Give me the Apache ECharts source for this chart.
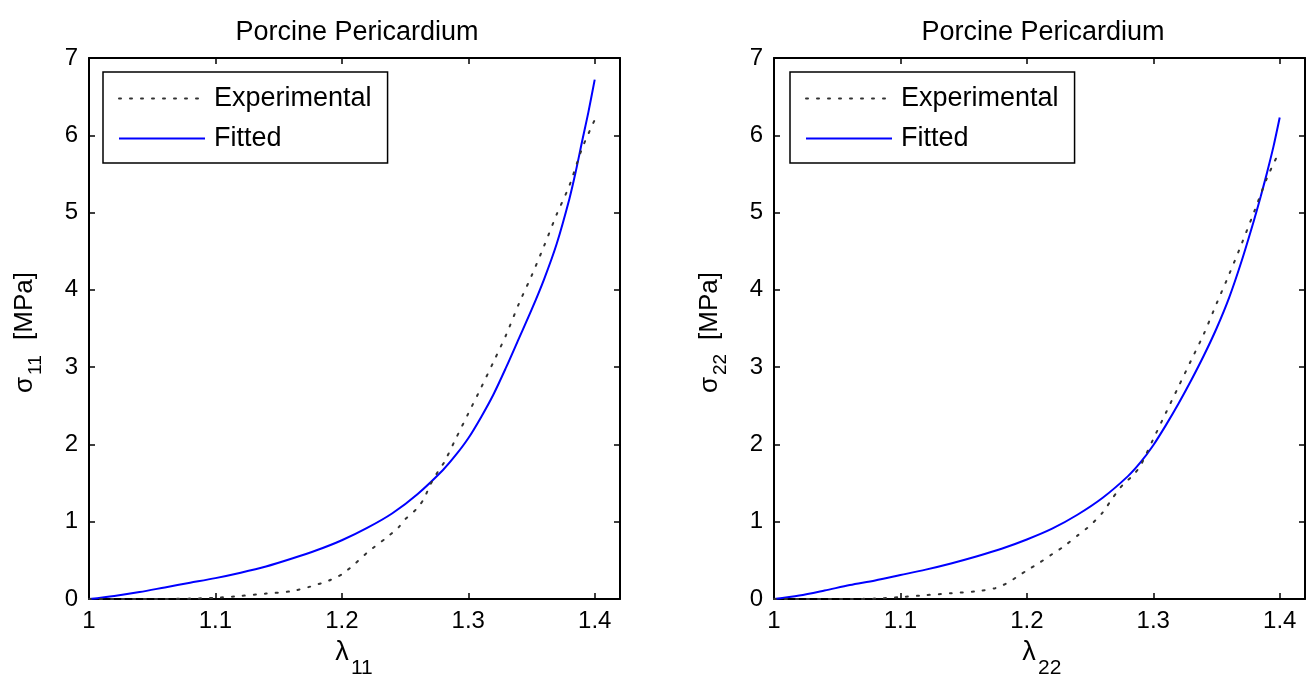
<!DOCTYPE html>
<html><head><meta charset="utf-8">
<script src="https://cdn.jsdelivr.net/npm/echarts@6/dist/echarts.min.js"></script>
<style>html,body{margin:0;padding:0;background:#fff}#c{width:1311px;height:683px}</style>
</head><body><div id="c"></div>
<script>
const titleText = 'Porcine Pericardium';
const legendNames = ['Experimental', 'Fitted'];
const xTickLabels = ['1', '1.1', '1.2', '1.3', '1.4'];

const lam11Exp = [1.00,1.02,1.04,1.06,1.08,1.10,1.12,1.14,1.16,1.175,1.19,1.20,1.21,1.22,1.235,1.245,1.25,1.26,1.265,1.27,1.276,1.281,1.29,1.30,1.31,1.32,1.33,1.34,1.35,1.36,1.37,1.38,1.39,1.40];
const sig11Exp = [0,0,0,0,0.005,0.015,0.04,0.07,0.10,0.16,0.24,0.32,0.45,0.60,0.79,0.93,1.03,1.18,1.30,1.48,1.65,1.77,2.07,2.40,2.73,3.07,3.42,3.82,4.18,4.57,4.98,5.35,5.83,6.20];

const lamFit = [1.00,1.02,1.04,1.06,1.08,1.10,1.12,1.14,1.16,1.18,1.20,1.22,1.24,1.26,1.28,1.29,1.30,1.31,1.32,1.33,1.34,1.35,1.36,1.37,1.38,1.385,1.39,1.395,1.40];
const sig11Fit = [0,0.04,0.09,0.15,0.21,0.27,0.34,0.42,0.52,0.63,0.76,0.92,1.11,1.36,1.67,1.86,2.08,2.35,2.65,3.00,3.37,3.74,4.14,4.60,5.18,5.53,5.92,6.30,6.72];
const sig22Fit = [0,0.045,0.11,0.18,0.24,0.31,0.38,0.46,0.55,0.65,0.77,0.91,1.09,1.31,1.59,1.77,1.99,2.25,2.53,2.83,3.15,3.50,3.90,4.38,4.92,5.21,5.52,5.85,6.23];

const lam22Exp = [1.00,1.02,1.04,1.06,1.08,1.10,1.12,1.14,1.16,1.175,1.185,1.192,1.20,1.21,1.22,1.23,1.24,1.25,1.26,1.268,1.276,1.284,1.29,1.30,1.31,1.32,1.33,1.34,1.35,1.36,1.37,1.38,1.39,1.40];
const sig22Exp = [0,0,0,0,0.005,0.025,0.05,0.075,0.10,0.14,0.21,0.285,0.37,0.47,0.58,0.69,0.82,0.95,1.12,1.31,1.48,1.60,1.73,2.07,2.41,2.75,3.09,3.43,3.82,4.20,4.60,5.02,5.45,5.80];

const FF = '"Liberation Sans", Arial, Helvetica, sans-serif';
const zip = (a, b) => a.map((v, i) => [v, b[i]]);

const grids = [
  {left: 89, top: 58, width: 531, height: 541},
  {left: 774, top: 58, width: 531, height: 541}
];
const axisLineStyle = {color: '#000', width: 2};
const tickStyle = {inside: true, length: 6, lineStyle: {color: '#000', width: 1.5}};

const xAxes = [], yAxes = [];
grids.forEach((g, gi) => {
  xAxes.push({gridIndex: gi, type: 'value', min: 1, max: 1.42, interval: 0.1, position: 'bottom',
    axisLine: {onZero: false, lineStyle: axisLineStyle}, axisTick: tickStyle, splitLine: {show: false},
    axisLabel: {fontSize: 24, color: '#000', fontFamily: FF, margin: 10,
      formatter: v => { const i = Math.round((v - 1) * 10); return (Math.abs(v - (1 + i / 10)) < 1e-6 && i < xTickLabels.length) ? xTickLabels[i] : ''; }}});
  xAxes.push({gridIndex: gi, type: 'value', min: 1, max: 1.42, interval: 0.1, position: 'top',
    axisLine: {onZero: false, lineStyle: axisLineStyle}, axisTick: tickStyle, splitLine: {show: false}, axisLabel: {show: false}});
  yAxes.push({gridIndex: gi, type: 'value', min: 0, max: 7, interval: 1, position: 'left',
    axisLine: {onZero: false, show: true, lineStyle: axisLineStyle}, axisTick: {show: true, ...tickStyle}, splitLine: {show: false},
    axisLabel: {fontSize: 24, color: '#000', fontFamily: FF, margin: 11}});
  yAxes.push({gridIndex: gi, type: 'value', min: 0, max: 7, interval: 1, position: 'right',
    axisLine: {onZero: false, show: true, lineStyle: axisLineStyle}, axisTick: {show: true, ...tickStyle}, splitLine: {show: false}, axisLabel: {show: false}});
});

const expStyle = {color: '#333', width: 2, type: [2, 9], cap: 'round'};
const fitStyle = {color: '#0000ff', width: 2};
const series = [
  {name: 'Experimental', type: 'line', xAxisIndex: 0, yAxisIndex: 0, data: zip(lam11Exp, sig11Exp), symbol: 'none', smooth: 0.25, lineStyle: expStyle, itemStyle: {color: '#333'}, z: 3},
  {name: 'Fitted', type: 'line', xAxisIndex: 0, yAxisIndex: 0, data: zip(lamFit, sig11Fit), symbol: 'none', smooth: 0.3, lineStyle: fitStyle, itemStyle: {color: '#0000ff'}, z: 2},
  {name: 'Experimental', type: 'line', xAxisIndex: 2, yAxisIndex: 2, data: zip(lam22Exp, sig22Exp), symbol: 'none', smooth: 0.25, lineStyle: expStyle, itemStyle: {color: '#333'}, z: 3},
  {name: 'Fitted', type: 'line', xAxisIndex: 2, yAxisIndex: 2, data: zip(lamFit, sig22Fit), symbol: 'none', smooth: 0.3, lineStyle: fitStyle, itemStyle: {color: '#0000ff'}, z: 2}
];

const legendBase = {orient: 'vertical', top: 72, data: legendNames, itemWidth: 86, itemHeight: 14, itemGap: 13,
  padding: [13, 16, 11, 15], borderColor: '#000', borderWidth: 1.5, backgroundColor: '#fff', selectedMode: false,
  itemStyle: {opacity: 0},
  textStyle: {fontSize: 27, color: '#000', fontFamily: FF, lineHeight: 26, padding: [0, 0, 0, 4]}};

function yTitle(x, sub) {
  return {type: 'group', x: x, y: 330, rotation: Math.PI / 2, children: [
    {type: 'text', x: -63, y: 0, style: {text: 'σ', fontSize: 26, fontFamily: FF, fill: '#000', align: 'left', verticalAlign: 'middle'}},
    {type: 'text', x: -45, y: 11, style: {text: sub, fontSize: 19, fontFamily: FF, fill: '#000', align: 'left', verticalAlign: 'middle'}},
    {type: 'text', x: -10, y: 0, style: {text: '[MPa]', fontSize: 26, fontFamily: FF, fill: '#000', align: 'left', verticalAlign: 'middle'}}
  ]};
}
function xTitle(x, sub) {
  return {type: 'group', x: x, y: 653, children: [
    {type: 'text', x: 0, y: 0, style: {text: 'λ', fontSize: 27, fontFamily: FF, fill: '#000', align: 'center', verticalAlign: 'middle'}},
    {type: 'text', x: 9, y: 15, style: {text: sub, fontSize: 21, fontFamily: FF, fill: '#000', align: 'left', verticalAlign: 'middle'}}
  ]};
}

const chart = echarts.init(document.getElementById('c'), null, {renderer: 'canvas'});
chart.setOption({
  backgroundColor: '#fff',
  animation: false,
  title: [
    {text: titleText, left: 352, top: 14, textAlign: 'center', textStyle: {fontSize: 27, fontWeight: 'normal', color: '#000', fontFamily: FF}},
    {text: titleText, left: 1038, top: 14, textAlign: 'center', textStyle: {fontSize: 27, fontWeight: 'normal', color: '#000', fontFamily: FF}}
  ],
  grid: grids,
  xAxis: xAxes,
  yAxis: yAxes,
  legend: [Object.assign({left: 103}, legendBase), Object.assign({left: 790}, legendBase)],
  series: series,
  graphic: [yTitle(25, '11'), yTitle(710, '22'), xTitle(342, '11'), xTitle(1029, '22')]
});
</script></body></html>
